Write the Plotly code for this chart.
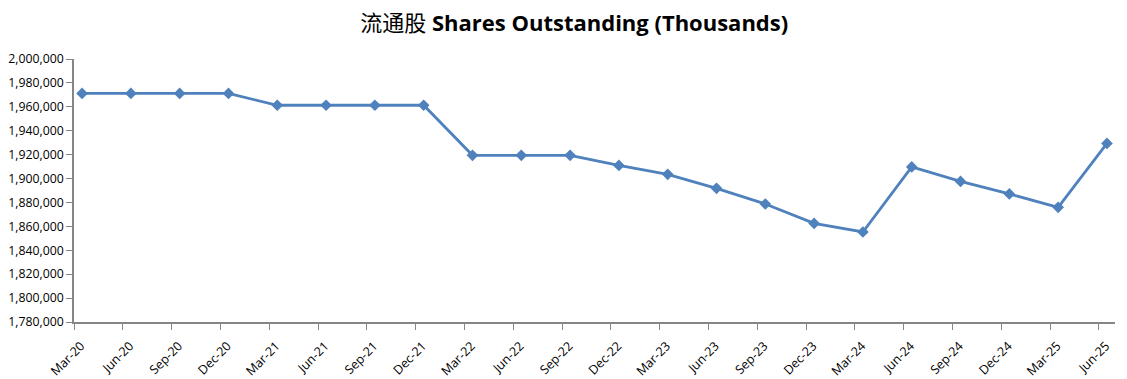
import plotly.graph_objects as go

categories = ["Mar-20", "Jun-20", "Sep-20", "Dec-20", "Mar-21", "Jun-21", "Sep-21", "Dec-21",
              "Mar-22", "Jun-22", "Sep-22", "Dec-22", "Mar-23", "Jun-23", "Sep-23", "Dec-23",
              "Mar-24", "Jun-24", "Sep-24", "Dec-24", "Mar-25", "Jun-25"]
shares = [1971200, 1971200, 1971200, 1971200, 1961300, 1961300, 1961300, 1961300,
          1919400, 1919400, 1919400, 1911000, 1903500, 1891800, 1878700, 1862500,
          1855300, 1909700, 1897600, 1887100, 1875900, 1929400]
y_ticks = list(range(1780000, 2000001, 20000))

x = list(range(len(categories)))
offset = 0.165

fig = go.Figure()
fig.add_trace(go.Scatter(
    x=x, y=shares, mode="lines+markers",
    line=dict(color="#4F81BD", width=2.8),
    marker=dict(symbol="diamond", size=9, color="#4F81BD"),
    hoverinfo="y",
))

fig.update_layout(
    width=1119, height=371,
    margin=dict(l=66, r=12, t=51, b=57, autoexpand=False),
    paper_bgcolor="white", plot_bgcolor="white",
    showlegend=False,
    title=dict(
        text="流通股 <b>Shares Outstanding (Thousands)</b>",
        x=0.506, xanchor="center", y=0.958, yanchor="middle",
        font=dict(family="Open Sans, Noto Sans CJK SC, sans-serif", size=22, color="black"),
    ),
    xaxis=dict(
        range=[-offset, len(categories) - 1 + offset],
        tickmode="array",
        tickvals=[i - offset for i in x],
        ticktext=categories,
        tickangle=-45,
        ticklabelshift=7,
        ticklabelstandoff=4,
        automargin=False,
        showgrid=False, zeroline=False,
        showline=True, linecolor="#868686", linewidth=1.5,
        ticks="outside", ticklen=6, tickcolor="#868686",
        tickfont=dict(family="Open Sans, sans-serif", size=12.5, color="black"),
    ),
    yaxis=dict(
        range=[1780000, 2000000],
        tickmode="array",
        tickvals=y_ticks,
        ticktext=[f"{v:,}" for v in y_ticks],
        automargin=False,
        showgrid=False, zeroline=False,
        showline=True, linecolor="#868686", linewidth=1.5,
        ticks="outside", ticklen=6, tickcolor="#868686",
        tickfont=dict(family="Open Sans, sans-serif", size=12.3, color="black"),
    ),
)

fig.write_html("out.html")
